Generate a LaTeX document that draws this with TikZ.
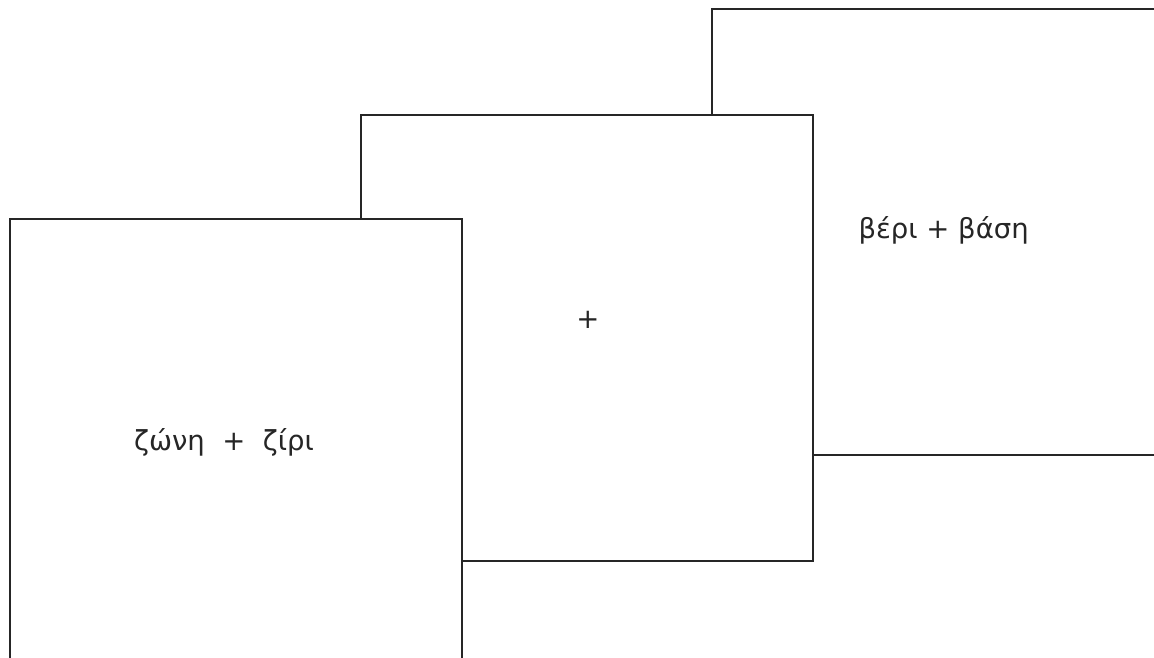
\documentclass[tikz,border=0pt]{standalone}
\usepackage{fontspec}
\setmainfont{DejaVu Sans}
\usepackage{tikz}
\usetikzlibrary{positioning}
\definecolor{cardline}{HTML}{262626}

\tikzset{
  card/.style={draw=cardline,line width=2pt,fill=white,minimum width=452pt,
    minimum height=446pt,anchor=north west,inner sep=0pt,outer sep=0pt},
  word/.style={font=\fontsize{27.5}{32}\selectfont,text=cardline}
}

\begin{document}
\begin{tikzpicture}[x=1pt,y=-1pt]
  \useasboundingbox (0,0) rectangle (1154,658);
  \clip (0,0) rectangle (1154,658);

  % Back card
  \node[card] (back) at (712,9) {};
  \node[word,anchor=west] (backtext) at (855,230) {βέρι + βάση};

  % Middle card
  \node[card] (middle) at (361,115) {};
  \node[word] (midtext) at (588,320) {+};

  % Front card
  \node[card] (front) at (10,219) {};
  \node[word] (fronttext) at (224,442) {ζώνη \ + \ ζίρι};
\end{tikzpicture}
\end{document}
